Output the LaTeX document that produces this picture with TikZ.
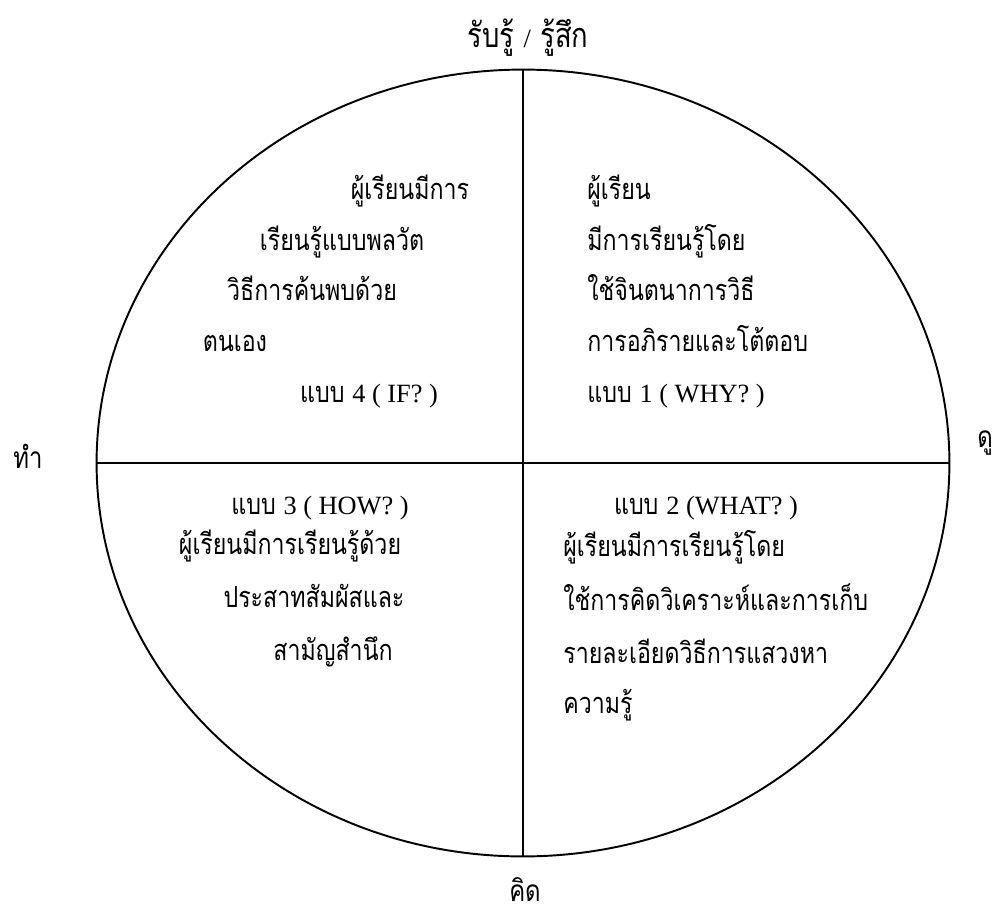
\documentclass[tikz,border=0pt]{standalone}
\usepackage{fontspec}
\setmainfont{Liberation Serif}
\newfontfamily\thaifont[Script=Thai,FakeStretch=0.8]{Loma}
\newcommand{\lat}[1]{{\rmfamily\fontsize{15}{18}\selectfont #1}}
\usetikzlibrary{positioning}

\begin{document}
\begin{tikzpicture}[x=0.02cm, y=-0.02cm,
    every node/.style={inner sep=0pt, font=\thaifont\fontsize{16.5}{20}\selectfont},
    axislabel/.style={font=\thaifont\fontsize{19.5}{23}\selectfont},
    sidelabel/.style={font=\thaifont\fontsize{17}{20}\selectfont}]
  % Frame
  \useasboundingbox (0,0) rectangle (996,916);
  % Ellipse and its axes
  \coordinate (c) at (523,463);
  \coordinate (top) at (523,70);
  \coordinate (bot) at (523,857);
  \coordinate (lft) at (96.5,463);
  \coordinate (rgt) at (949.5,463);
  \draw[line width=1.1pt] (c) ellipse [x radius=8.53cm, y radius=7.87cm];
  \draw[line width=0.8pt] (top) -- (bot);
  \draw[line width=0.8pt] (lft) -- (rgt);
  % Axis labels
  \node[axislabel, anchor=base] (feel) at (528,47) {รับรู้ \lat{/} รู้สึก};
  \node[sidelabel, anchor=base] (think) at (525,901) {คิด};
  \node[sidelabel, anchor=base] (do) at (28,468) {ทำ};
  \node[sidelabel, anchor=base] (watch) at (985,447) {ดู};
  % Quadrant 4 (top left)
  \node[anchor=base] (q4a) at (410,199) {ผู้เรียนมีการ};
  \node[anchor=base] (q4b) at (342,250) {เรียนรู้แบบพลวัต};
  \node[anchor=base] (q4c) at (312,300) {วิธีการค้นพบด้วย};
  \node[anchor=base] (q4d) at (235,351) {ตนเอง};
  \node[anchor=base] (q4e) at (369,402) {แบบ \lat{4 ( IF? )}};
  % Quadrant 1 (top right)
  \node[anchor=base west] (q1a) at (587,199) {ผู้เรียน};
  \node[anchor=base west] (q1b) at (587,250) {มีการเรียนรู้โดย};
  \node[anchor=base west] (q1c) at (587,300) {ใช้จินตนาการวิธี};
  \node[anchor=base west] (q1d) at (587,351) {การอภิรายและโต้ตอบ};
  \node[anchor=base west] (q1e) at (587,402) {แบบ \lat{1 ( WHY? )}};
  % Quadrant 3 (bottom left)
  \node[anchor=base] (q3a) at (320,514) {แบบ \lat{3 ( HOW? )}};
  \node[anchor=base] (q3b) at (290,554) {ผู้เรียนมีการเรียนรู้ด้วย};
  \node[anchor=base] (q3c) at (314,607) {ประสาทสัมผัสและ};
  \node[anchor=base] (q3d) at (333,660) {สามัญสำนึก};
  % Quadrant 2 (bottom right)
  \node[anchor=base] (q2a) at (706,514) {แบบ \lat{2 (WHAT? )}};
  \node[anchor=base west] (q2b) at (563,556) {ผู้เรียนมีการเรียนรู้โดย};
  \node[anchor=base west] (q2c) at (563,610) {ใช้การคิดวิเคราะห์และการเก็บ};
  \node[anchor=base west] (q2d) at (563,663) {รายละเอียดวิธีการแสวงหา};
  \node[anchor=base west] (q2e) at (563,713) {ความรู้};
\end{tikzpicture}
\end{document}
